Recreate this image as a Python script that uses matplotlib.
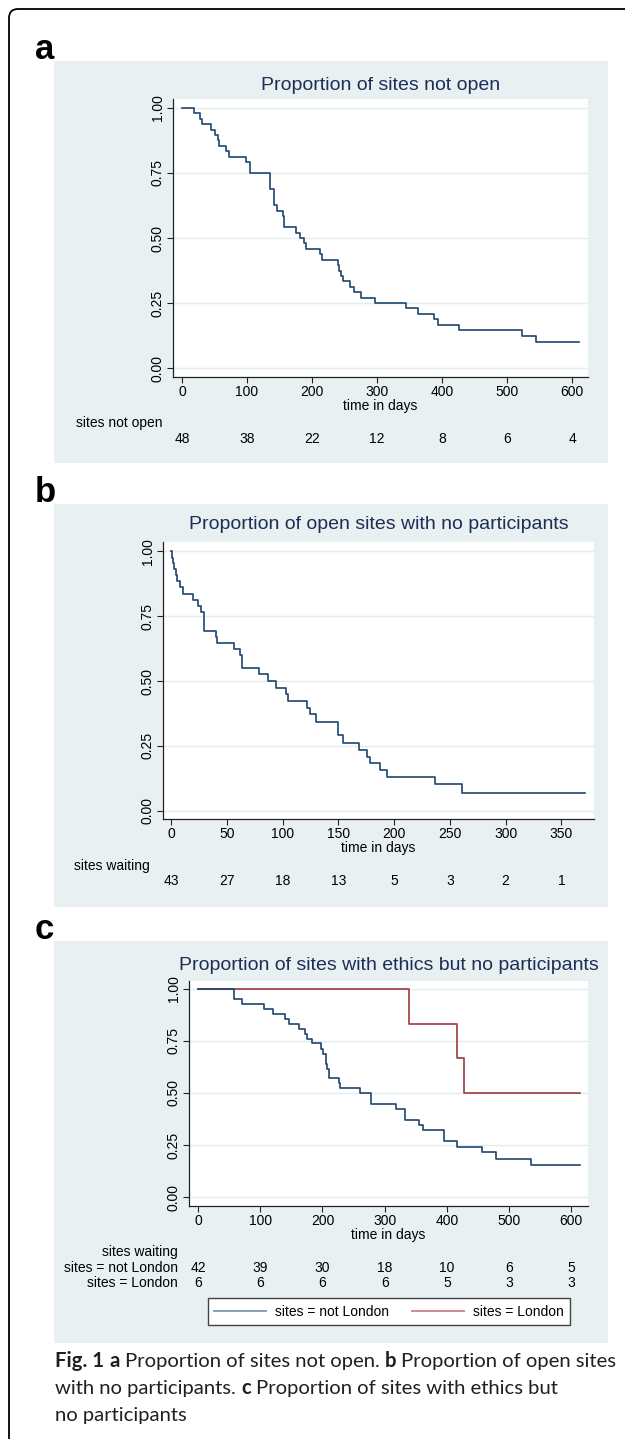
import matplotlib
matplotlib.use("Agg")
import matplotlib.pyplot as plt
from matplotlib.patches import Rectangle, FancyBboxPatch
from matplotlib.lines import Line2D
from matplotlib.transforms import IdentityTransform, blended_transform_factory

W, H = 625, 1439

# panel a: proportion of sites not open
a_days = [0, 18, 28, 31, 45, 50, 56, 57, 67, 72, 98, 105, 135, 136, 141, 142, 146, 155, 157, 175,
          182, 187, 190, 213, 216, 240, 241, 244, 248, 259, 265, 275, 297, 345, 363, 387, 394, 426, 523, 545]
a_surv = [1.0, .979, .958, .938, .917, .896, .875, .854, .833, .813, .792, .750, .708, .688, .646, .625, .604, .583, .542, .521,
          .500, .479, .458, .438, .417, .396, .375, .354, .333, .313, .292, .271, .250, .229, .208, .188, .167, .146, .125, .099]
a_end = 611
a_xticks = [0, 100, 200, 300, 400, 500, 600]
a_risk = [48, 38, 22, 12, 8, 6, 4]

# panel b: open sites with no participants
b_days = [0, 0.6, 1.5, 2.7, 4.2, 5.4, 7.5, 10.5, 19.7, 24, 27, 29, 40, 41, 56, 61.6, 63, 78.6, 86.7, 94,
          103, 104.6, 121.7, 124.6, 129.5, 150, 153.7, 168, 175.5, 178.5, 187, 193.7, 236.8, 260.7]
b_surv = [1.0, .976, .954, .931, .907, .886, .861, .837, .812, .789, .765, .694, .670, .645, .622, .599, .550, .527, .500, .474,
          .450, .423, .396, .371, .343, .290, .262, .235, .208, .183, .157, .131, .104, .069]
b_end = 371
b_xticks = [0, 50, 100, 150, 200, 250, 300, 350]
b_risk = [43, 27, 18, 13, 5, 3, 2, 1]

# panel c: sites with ethics but no participants
c_nl_days = [0, 57.8, 71, 106.6, 120, 139.8, 146.8, 162, 172, 174.6, 183.7, 197, 200.9, 205, 207, 210.5, 226, 228.7, 261, 277.5,
             317.6, 332, 355, 361.5, 395.7, 416, 457, 479, 534.5]
c_nl_surv = [1.0, .952, .928, .904, .881, .857, .833, .809, .785, .761, .739, .713, .689, .641, .617, .572, .546, .524, .498, .449,
             .423, .372, .348, .322, .269, .242, .215, .184, .154]
c_l_days = [0, 338.5, 416, 427.4]
c_l_surv = [1.0, .833, .667, .5]
c_end = 613.8
c_xticks = [0, 100, 200, 300, 400, 500, 600]
c_risk_nl = [42, 39, 30, 18, 10, 6, 5]
c_risk_l = [6, 6, 6, 6, 5, 3, 3]

yticks = [0, .25, .5, .75, 1.0]
ylabels = ["0.00", "0.25", "0.50", "0.75", "1.00"]

BG = "#E9F0F2"
NAVY = "#1F4570"
MAROON = "#9A3A42"
TITLE_C = "#1E2D55"
FONT = "Liberation Sans"

plt.rcParams["font.family"] = [FONT, "DejaVu Sans"]

fig = plt.figure(figsize=(W / 100, H / 100), dpi=100)
fig.patch.set_facecolor("white")


def fx(x):
    return x / W


def fy(y):
    return 1 - y / H


# outer rounded frame (open at right and bottom)
frame = FancyBboxPatch((9, -40), 660, H - 9 + 40, boxstyle="round,pad=0,rounding_size=9",
                       transform=IdentityTransform(), fill=False, ec="black", lw=1.3)
fig.add_artist(frame)


def panel(letter, top, bottom, box, xlim, ylim, title, title_y, xticks):
    fig.add_artist(Rectangle((fx(54), fy(bottom)), (608 - 54) / W, (bottom - top) / H,
                             transform=fig.transFigure, fc=BG, ec="none", zorder=0))
    fig.text(fx(35), fy(top - 2), letter, fontsize=25, fontweight="bold", va="baseline", ha="left")
    l, t, r, b = box
    ax = fig.add_axes([fx(l), fy(b), (r - l) / W, (b - t) / H])
    ax.set_facecolor("white")
    ax.set_xlim(*xlim)
    ax.set_ylim(*ylim)
    for s in ["top", "right"]:
        ax.spines[s].set_visible(False)
    for s in ["left", "bottom"]:
        ax.spines[s].set_color("#222222")
        ax.spines[s].set_linewidth(0.9)
    ax.set_yticks(yticks)
    ax.set_yticklabels(ylabels, rotation=90, va="center", fontsize=10)
    ax.set_xticks(xticks)
    ax.set_xticklabels([str(v) for v in xticks], fontsize=10)
    ax.tick_params(direction="out", length=4, width=0.8, color="#222222", pad=2)
    ax.grid(axis="y", color="#E3ECEF", lw=1.0)
    ax.set_axisbelow(True)
    ax.set_xlabel("time in days", fontsize=10, labelpad=0)
    fig.text(fx((l + r) / 2), fy(title_y), title, fontsize=14, color=TITLE_C, ha="center", va="center")
    return ax


def km(ax, days, surv, end, color):
    ax.step(list(days) + [end], list(surv) + [surv[-1]], where="post", color=color, lw=1.2, zorder=3)


def risk_row(ax, ticks, counts, y):
    tr = blended_transform_factory(ax.transData, fig.transFigure)
    for t, n in zip(ticks, counts):
        ax.text(t, fy(y), str(n), transform=tr, ha="center", va="center", fontsize=10, clip_on=False)


# panel a
ax_a = panel("a", 61, 463, (173, 99, 588, 377), (-13.85, 624.6), (-0.0346, 1.0346),
             "Proportion of sites not open", 85, a_xticks)
km(ax_a, a_days, a_surv, a_end, NAVY)
fig.text(fx(162), fy(423), "sites not open", fontsize=10, ha="right", va="center")
risk_row(ax_a, a_xticks, a_risk, 439)

# panel b
ax_b = panel("b", 504, 907, (163, 542, 594, 819), (-7.45, 379.3), (-0.032, 1.036),
             "Proportion of open sites with no participants", 524, b_xticks)
km(ax_b, b_days, b_surv, b_end, NAVY)
fig.text(fx(150), fy(866), "sites waiting", fontsize=10, ha="right", va="center")
risk_row(ax_b, b_xticks, b_risk, 881)

# panel c
ax_c = panel("c", 941, 1343, (189, 981, 588, 1206), (-14.5, 626.8), (-0.043, 1.038),
             "Proportion of sites with ethics but no participants", 965, c_xticks)
km(ax_c, c_l_days, c_l_surv, c_end, MAROON)
km(ax_c, c_nl_days, c_nl_surv, c_end, NAVY)
fig.text(fx(178), fy(1252), "sites waiting", fontsize=10, ha="right", va="center")
fig.text(fx(178), fy(1268), "sites = not London", fontsize=10, ha="right", va="center")
fig.text(fx(178), fy(1283), "sites = London", fontsize=10, ha="right", va="center")
risk_row(ax_c, c_xticks, c_risk_nl, 1268)
risk_row(ax_c, c_xticks, c_risk_l, 1283)

handles = [Line2D([], [], color="#7D97B2", lw=1.3), Line2D([], [], color="#C48488", lw=1.3)]
fig.legend(handles, ["sites = not London", "sites = London"], loc="center",
           bbox_to_anchor=(fx(389), fy(1311.5)), ncol=2, fontsize=10, frameon=True, fancybox=False,
           edgecolor="#444444", framealpha=1, handlelength=3.7, handletextpad=0.65, columnspacing=1.7,
           borderpad=0.45)

# caption with mixed bold pieces
CAP_FONT = ["Lato", "DejaVu Sans"]
CAP_FS = 14.6
CAP_C = "#231F20"
renderer = fig.canvas.get_renderer()


def text_w(s, bold):
    t = fig.text(0, 0, s, fontsize=CAP_FS, family=CAP_FONT, fontweight="bold" if bold else "normal")
    w = t.get_window_extent(renderer=renderer).width
    t.remove()
    return w


space_w = text_w("x x", False) - text_w("xx", False)

caption = [
    [("Fig. 1", True), ("a", True), ("Proportion of sites not open.", False), ("b", True), ("Proportion of open sites", False)],
    [("with no participants.", False), ("c", True), ("Proportion of sites with ethics but", False)],
    [("no participants", False)],
]
cap_y = [1367, 1394, 1421]
for parts, y in zip(caption, cap_y):
    x = 55
    for s, bold in parts:
        t = fig.text(fx(x), fy(y), s, fontsize=CAP_FS, family=CAP_FONT,
                     fontweight="bold" if bold else "normal", color=CAP_C, va="baseline", ha="left")
        x += t.get_window_extent(renderer=renderer).width + space_w

fig.savefig("out.png", dpi=100)
